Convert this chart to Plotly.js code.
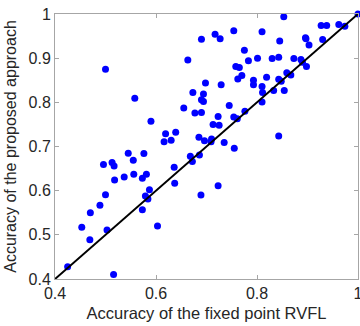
<!DOCTYPE html>
<html><head><meta charset="utf-8">
<script src="https://cdn.plot.ly/plotly-3.0.1.min.js"></script>
<style>body{margin:0;padding:0;background:#fff}#chart{width:360px;height:326px}</style>
</head><body><div id="chart"></div>
<script>
const fixedPointRVFL = [0.500,0.558,0.590,0.690,0.717,0.727,0.754,0.775,0.783,0.663,0.758,0.765,0.770,0.762,0.793,0.793,0.698,0.729,0.673,0.694,0.690,0.694,0.655,0.745,0.677,0.690,0.776,0.723,0.754,0.761,0.713,0.725,0.619,0.639,0.685,0.616,0.630,0.696,0.710,0.709,0.735,0.853,0.810,0.927,0.938,0.962,0.974,1.000,0.845,0.896,0.897,0.930,0.903,0.801,0.830,0.843,0.873,0.887,0.890,0.898,0.859,0.867,0.819,0.843,0.848,0.810,0.811,0.833,0.854,0.810,0.843,0.545,0.576,0.555,0.496,0.513,0.517,0.518,0.537,0.556,0.573,0.581,0.500,0.587,0.579,0.584,0.489,0.573,0.470,0.453,0.503,0.469,0.425,0.516,0.603,0.755,0.668,0.686,0.672,0.636,0.637,0.723,0.689];
const proposedApproach = [0.875,0.809,0.757,0.943,0.954,0.944,0.962,0.918,0.894,0.896,0.881,0.879,0.861,0.853,0.850,0.840,0.844,0.840,0.822,0.819,0.806,0.802,0.787,0.793,0.776,0.777,0.780,0.768,0.767,0.763,0.750,0.748,0.729,0.732,0.721,0.711,0.714,0.713,0.717,0.711,0.709,0.994,0.960,0.974,0.974,0.976,0.972,1.000,0.939,0.946,0.944,0.942,0.930,0.900,0.899,0.902,0.899,0.897,0.891,0.881,0.867,0.862,0.857,0.852,0.848,0.836,0.822,0.827,0.827,0.801,0.724,0.685,0.684,0.669,0.659,0.664,0.656,0.624,0.631,0.637,0.628,0.637,0.591,0.602,0.588,0.581,0.567,0.557,0.550,0.517,0.511,0.489,0.428,0.410,0.520,0.696,0.678,0.681,0.666,0.653,0.617,0.611,0.590];
const diagonal = [0.4, 1];
const xTicks = [0.4, 0.6, 0.8, 1];
const xTickText = ['0.4', '0.6', '0.8', '1'];
const yTicks = [0.4, 0.5, 0.6, 0.7, 0.8, 0.9, 1];
const yTickText = ['0.4', '0.5', '0.6', '0.7', '0.8', '0.9', '1'];

const FONT = 'Liberation Sans, Arial, sans-serif';
const axisCommon = {
  showline: true, mirror: 'ticks', linecolor: '#a6a6a6', linewidth: 1,
  ticks: 'inside', ticklen: 4, tickcolor: '#a6a6a6', showgrid: false, zeroline: false,
  ticklabeloverflow: 'allow',
  tickfont: {family: FONT, size: 16, color: '#262626'}
};
Plotly.newPlot('chart', [
  {x: fixedPointRVFL, y: proposedApproach, mode: 'markers', type: 'scatter',
   marker: {color: '#0000ff', size: 7}, cliponaxis: false},
  {x: diagonal, y: diagonal, mode: 'lines', type: 'scatter',
   line: {color: '#000000', width: 2}}
], {
  width: 360, height: 326,
  margin: {l: 55, r: 2, t: 13.5, b: 46.5},
  showlegend: false,
  paper_bgcolor: '#ffffff', plot_bgcolor: '#ffffff',
  xaxis: Object.assign({}, axisCommon, {range: [0.4, 1], tickvals: xTicks, ticktext: xTickText,
    title: {text: 'Accuracy of the fixed point RVFL', standoff: 6,
      font: {family: FONT, size: 16.5, color: '#262626'}}}),
  yaxis: Object.assign({}, axisCommon, {range: [0.4, 1], tickvals: yTicks, ticktext: yTickText,
    title: {text: 'Accuracy of the proposed approach', standoff: 7,
      font: {family: FONT, size: 16, color: '#262626'}}})
}, {displayModeBar: false, staticPlot: true});
</script></body></html>
